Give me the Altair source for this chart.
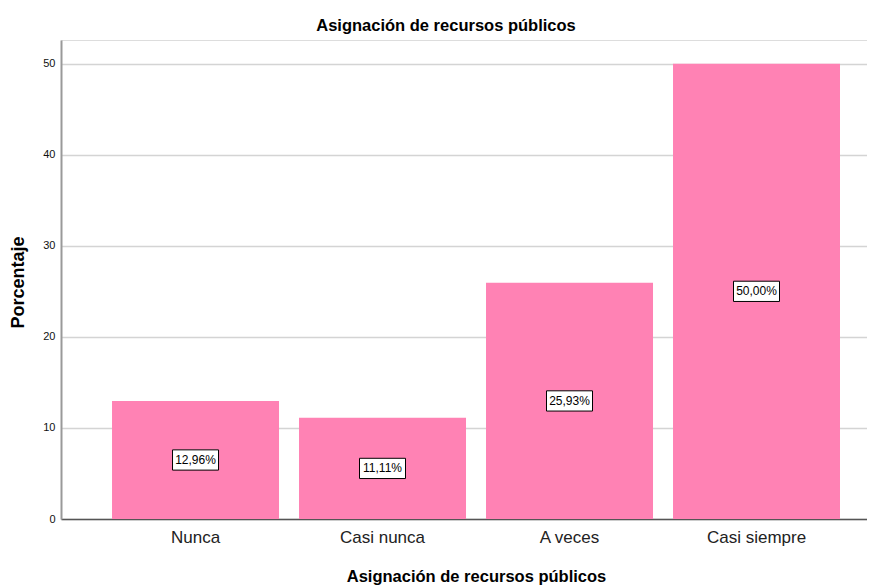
import altair as alt
import pandas as pd

categories = ["Nunca", "Casi nunca", "A veces", "Casi siempre"]
values = [12.96, 11.11, 25.93, 50.00]
labels = ["12,96%", "11,11%", "25,93%", "50,00%"]

df = pd.DataFrame({"cat": categories, "val": values, "lab": labels})

FONT = "Liberation Sans"
TITLE = "Asignación de recursos públicos"

x = alt.X(
    "cat:N",
    sort=categories,
    scale=alt.Scale(paddingInner=0.107, paddingOuter=0.2086, align=0.654),
    axis=alt.Axis(
        title=TITLE,
        labelAngle=0,
        labelFontSize=17,
        labelFont=FONT,
        labelColor="#222222",
        labelPadding=10,
        ticks=False,
        domainColor="#555555",
        domainWidth=1.5,
        titleFont=FONT,
        titleFontSize=16.5,
        titleFontWeight="bold",
        titleColor="#000000",
        titleX=415,
        titleY=57,
        titleBaseline="middle",
    ),
)

y_axis = alt.Axis(
    title="Porcentaje",
    values=[0, 10, 20, 30, 40, 50],
    labelFontSize=11,
    labelFont=FONT,
    labelColor="#111111",
    labelPadding=6,
    ticks=False,
    domainColor="#999999",
    domainWidth=2,
    grid=True,
    gridColor="#d4d4d4",
    gridWidth=1.5,
    titleFont=FONT,
    titleFontSize=18,
    titleFontWeight="bold",
    titleColor="#000000",
    titleAngle=270,
    titleX=-43,
    titleY=242,
    titleAlign="center",
    titleBaseline="middle",
)

base = alt.Chart(df)

bars = base.mark_bar(color="#ff82b4").encode(
    x=x,
    y=alt.Y("val:Q", scale=alt.Scale(domain=[0, 52.6], nice=False), axis=y_axis),
)

boxes = base.transform_calculate(mid="datum.val / 2").mark_point(
    shape="M-1,-0.44L1,-0.44L1,0.44L-1,0.44Z",
    size=46 * 46,
    filled=True,
    fill="white",
    stroke="#000000",
    strokeWidth=1,
    opacity=1,
).encode(x=alt.X("cat:N", sort=categories), y=alt.Y("mid:Q"))

texts = base.transform_calculate(mid="datum.val / 2").mark_text(
    font=FONT, fontSize=12, color="#000000", baseline="middle", align="center"
).encode(x=alt.X("cat:N", sort=categories), y=alt.Y("mid:Q"), text="lab:N")

chart = (
    alt.layer(bars, boxes, texts)
    .properties(
        width=806,
        height=479,
        autosize="none",
        padding={"left": 53, "top": 32, "right": 0, "bottom": 66},
        title=alt.TitleParams(
            TITLE,
            font=FONT,
            fontSize=16.5,
            fontWeight="bold",
            color="#000000",
            anchor="middle",
            dx=-18,
            offset=6,
        ),
    )
    .configure_view(stroke=None)
    .configure(background="white")
)

chart.save("out.html", embed_options={"renderer": "svg", "actions": False})
